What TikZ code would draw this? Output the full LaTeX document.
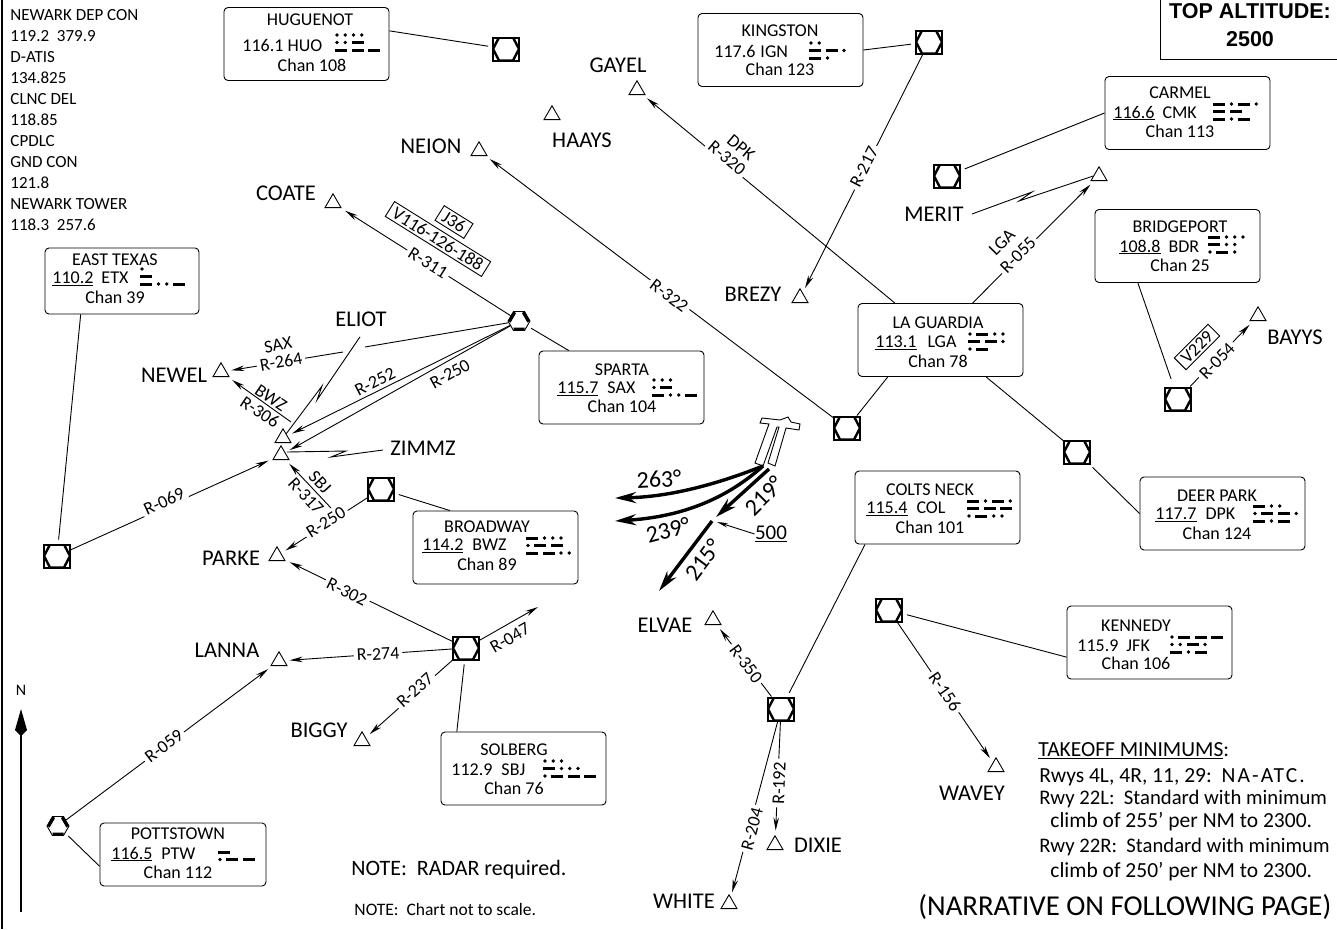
\documentclass[tikz,border=0pt]{standalone}
\usepackage{fontspec}
\setmainfont[Ligatures=TeX]{Carlito}
\newfontfamily\topfont{Liberation Sans}
\usetikzlibrary{arrows.meta,shapes.geometric}
\newcommand{\morse}[3]{%
  \foreach \morserow [count=\morsei] in {#3}{%
    \xdef\morsepos{0}%
    \foreach \morsesym in \morserow{%
      \pgfmathsetmacro{\morsex}{#1+\morsepos}%
      \pgfmathsetmacro{\morsey}{-#2-(\morsei-1)*7.5}%
      \if d\morsesym
        \fill [black] (\morsex+2,\morsey) circle (1.9);
        \pgfmathsetmacro{\morsenext}{\morsepos+8.25}%
      \else
        \fill [black] (\morsex,\morsey-1.5) rectangle (\morsex+12,\morsey+1.5);
        \pgfmathsetmacro{\morsenext}{\morsepos+16.5}%
      \fi
      \xdef\morsepos{\morsenext}%
    }%
  }%
}
\begin{document}
\begin{tikzpicture}[x=1pt,y=1pt,line width=0.9pt]
\tikzstyle{every node}+=[inner sep=0pt,font=\fontsize{18}{20}\selectfont]
\tikzstyle{navbox}=[rectangle,draw,rounded corners=4pt,minimum width=165pt,minimum height=73pt]
\tikzstyle{vordme}=[rectangle,draw,line width=2pt,minimum width=26pt,minimum height=23pt,path picture={\draw [line width=2.4pt] (path picture bounding box.center) ++(-13,0) -- ++(6,11.5) -- ++(14,0) -- ++(6,-11.5) -- ++(-6,-11.5) -- ++(-14,0) -- cycle;}]
\tikzstyle{vorhex}=[regular polygon,regular polygon sides=6,draw,minimum size=22pt,path picture={\draw [line width=6pt] (path picture bounding box.center) ++(-11,0) -- ++(5.5,9.5) ++(11,0) -- ++(5.5,-9.5) ++(-5.5,-9.5) -- ++(-11,0);}]
\tikzstyle{fixtri}=[regular polygon,regular polygon sides=3,draw,minimum size=18.5pt]
\tikzstyle{fixname}=[font=\fontsize{22.5}{24}\selectfont]
\tikzstyle{radial}=[-{Stealth[length=13pt,width=5.5pt]},shorten >=5pt]
\tikzstyle{tie}=[shorten >=4pt]
\tikzstyle{rlabel}=[fill=white,inner xsep=3pt,inner ysep=1pt]
\tikzstyle{boxed}=[draw,fill=white,inner sep=2.5pt,inner xsep=5pt]
\tikzstyle{departure}=[line width=3.4pt,-{Stealth[length=21pt,width=11pt]}]
\tikzstyle{degree}=[font=\fontsize{24}{26}\selectfont]
\tikzstyle{takeoff}=[font=\fontsize{21.5}{24}\selectfont,anchor=west]
\tikzstyle{takeoffrwy}=[font=\fontsize{20.7}{24}\selectfont,anchor=west]
\useasboundingbox (0,0) rectangle (1337,-929);
\draw [line width=1.5pt] (2,0) -- (2,-929);
\draw (1160,10) rectangle (1345,-59);
\node [font=\fontsize{21.5}{24}\selectfont\topfont\bfseries] (topalt) at (1250,-11) {TOP ALTITUDE:};
\node [font=\fontsize{21.5}{24}\selectfont\topfont\bfseries] (topaltvalue) at (1250,-39) {2500};
\node [anchor=north west,align=left,font=\fontsize{17}{21}\selectfont] (freqs) at (10,-9) {NEWARK DEP CON\\119.2\ \ 379.9\\D-ATIS\\134.825\\CLNC DEL\\118.85\\CPDLC\\GND CON\\121.8\\NEWARK TOWER\\118.3\ \ 257.6};
\node [navbox] (huguenot) at (306.5,-44) {};
\node (huguenottitle) at (310,-20) {HUGUENOT};
\node [anchor=west] (huguenotid) at (242,-45) {116.1 HUO};
\node (huguenotchan) at (312,-65) {Chan 108};
\morse{335}{35}{{d,d,d,d},{d,d,l},{l,l,l}}
\node [navbox] (kingston) at (780.5,-50) {};
\node (kingstontitle) at (780,-31) {KINGSTON};
\node [anchor=west] (kingstonid) at (714,-51) {117.6\hspace{5pt}IGN};
\node (kingstonchan) at (780,-69) {Chan 123};
\morse{809}{43}{{d,d},{l,l,d},{l,d}}
\node [navbox] (carmel) at (1187.5,-113) {};
\node (carmeltitle) at (1180,-93) {CARMEL};
\node [anchor=west] (carmelid) at (1113,-113) {\underline{116.6}\hspace{8pt}CMK};
\node (carmelchan) at (1180,-131) {Chan 113};
\morse{1213}{104}{{l,d,l,d},{l,l},{l,d,l}}
\node [navbox,minimum width=154pt,minimum height=66pt] (easttexas) at (122,-281) {};
\node (easttexastitle) at (115,-260) {EAST TEXAS};
\node [anchor=west] (easttexasid) at (52,-279) {\underline{110.2}\hspace{8pt}ETX};
\node (easttexaschan) at (115,-297) {Chan 39};
\morse{140}{269}{{d},{l},{l,d,d,l}}
\node [navbox] (bridgeport) at (1177.5,-246) {};
\node (bridgeporttitle) at (1180,-227) {BRIDGEPORT};
\node [anchor=west] (bridgeportid) at (1119,-247) {\underline{108.8}\hspace{8pt}BDR};
\node (bridgeportchan) at (1180,-265) {Chan 25};
\morse{1208}{237}{{l,d,d,d},{l,d,d},{d,l,d}}
\node [navbox] (laguardia) at (940.5,-340) {};
\node (laguardiatitle) at (938,-323) {LA GUARDIA};
\node [anchor=west] (laguardiaid) at (875,-343) {\underline{113.1}\hspace{11pt}LGA};
\node (laguardiachan) at (938,-361) {Chan 78};
\morse{968}{334}{{d,l,d,d},{l,l,d},{d,l}}
\node [navbox] (sparta) at (621.5,-387.5) {};
\node (spartatitle) at (622,-370) {SPARTA};
\node [anchor=west] (spartaid) at (557,-389) {\underline{115.7}\hspace{9pt}SAX};
\node (spartachan) at (622,-406) {Chan 104};
\morse{652}{380}{{d,d,d},{d,l},{l,d,d,l}}
\node [navbox] (deerpark) at (1222.5,-513.5) {};
\node (deerparktitle) at (1217,-496) {DEER PARK};
\node [anchor=west] (deerparkid) at (1155,-515) {\underline{117.7}\hspace{9pt}DPK};
\node (deerparkchan) at (1217,-533) {Chan 124};
\morse{1253}{506}{{l,d,d},{d,l,l,d},{l,d,l}}
\node [navbox] (coltsneck) at (937.5,-507.5) {};
\node (coltsnecktitle) at (930,-490) {COLTS NECK};
\node [anchor=west] (coltsneckid) at (866,-509) {\underline{115.4}\hspace{9pt}COL};
\node (coltsneckchan) at (930,-527) {Chan 101};
\morse{967}{501}{{l,d,l,d},{l,l,l},{d,l,d,d}}
\node [navbox] (broadway) at (495.5,-547.5) {};
\node (broadwaytitle) at (487,-527) {BROADWAY};
\node [anchor=west] (broadwayid) at (422,-546) {\underline{114.2}\hspace{9pt}BWZ};
\node (broadwaychan) at (487,-564) {Chan 89};
\morse{526}{538}{{l,d,d,d},{d,l,l},{l,l,d,d}}
\node [navbox] (kennedy) at (1149.5,-642.5) {};
\node (kennedytitle) at (1136,-626) {KENNEDY};
\node [anchor=west] (kennedyid) at (1077,-646) {115.9\hspace{8pt}JFK};
\node (kennedychan) at (1136,-663) {Chan 106};
\morse{1170}{637}{{d,l,l,l},{d,d,l,d},{l,d,l}}
\node [navbox] (solberg) at (523.5,-768.5) {};
\node (solbergtitle) at (514,-750) {SOLBERG};
\node [anchor=west] (solbergid) at (451,-770) {112.9\hspace{9pt}SBJ};
\node (solbergchan) at (514,-788) {Chan 76};
\morse{543}{761}{{d,d,d},{l,d,d,d},{d,l,l,l}}
\node [navbox,minimum width=166pt,minimum height=63pt] (pottstown) at (183,-854.5) {};
\node (pottstowntitle) at (178,-834) {POTTSTOWN};
\node [anchor=west] (pottstownid) at (111,-854) {\underline{116.5}\hspace{9pt}PTW};
\node (pottstownchan) at (178,-872) {Chan 112};
\morse{218}{852}{{l},{d,l,l}}
\node [vordme] (huo) at (506,-49) {};
\node [vordme] (ign) at (929,-42) {};
\node [vordme] (cmk) at (947,-176) {};
\node [vordme] (etx) at (57,-556) {};
\node [vordme] (bwz) at (381,-489) {};
\node [vordme] (sbj) at (466,-648) {};
\node [vordme] (lga) at (847,-428) {};
\node [vordme] (dpk) at (1077,-452) {};
\node [vordme] (bdr) at (1178,-399) {};
\node [vordme] (col) at (781,-709) {};
\node [vordme] (jfk) at (889,-610) {};
\node [vorhex] (sax) at (519,-321) {};
\node [vorhex] (ptw) at (58,-826) {};
\node [fixtri] (gayelfix) at (637,-90) {};
\node [fixtri] (haaysfix) at (552,-115) {};
\node [fixtri] (neionfix) at (479,-151) {};
\node [fixtri] (coatefix) at (333,-203) {};
\node [fixtri] (newelfix) at (221,-372) {};
\node [fixtri] (eliotfix) at (283,-438) {};
\node [fixtri] (zimmzfix) at (281,-455) {};
\node [fixtri] (parkefix) at (277,-556) {};
\node [fixtri] (lannafix) at (279,-661) {};
\node [fixtri] (biggyfix) at (362,-741) {};
\node [fixtri] (elvaefix) at (713,-620) {};
\node [fixtri] (dixiefix) at (775,-845) {};
\node [fixtri] (whitefix) at (729,-904) {};
\node [fixtri] (waveyfix) at (996,-767) {};
\node [fixtri] (brezyfix) at (800,-298) {};
\node [fixtri] (meritfix) at (1099,-176) {};
\node [fixtri] (bayysfix) at (1258,-316) {};
\node [fixname] (gayel) at (618,-65) {GAYEL};
\node [fixname] (haays) at (582,-140) {HAAYS};
\node [fixname] (neion) at (431,-146) {NEION};
\node [fixname] (coate) at (286,-193) {COATE};
\node [fixname] (eliot) at (361,-319) {ELIOT};
\node [fixname] (newel) at (174,-375) {NEWEL};
\node [fixname] (zimmz) at (423,-448) {ZIMMZ};
\node [fixname] (parke) at (231,-558) {PARKE};
\node [fixname] (lanna) at (227,-650) {LANNA};
\node [fixname] (biggy) at (319,-730) {BIGGY};
\node [fixname] (elvae) at (665,-625) {ELVAE};
\node [fixname] (dixie) at (818,-845) {DIXIE};
\node [fixname] (white) at (684,-901) {WHITE};
\node [fixname] (wavey) at (972,-793) {WAVEY};
\node [fixname] (brezy) at (753,-294) {BREZY};
\node [fixname] (merit) at (934,-214) {MERIT};
\node [fixname] (bayys) at (1295,-337) {BAYYS};
\coordinate (r264break) at (365,-347);
\coordinate (r264resume) at (343,-352);
\coordinate (r306start) at (291,-422);
\coordinate (r317start) at (331,-508);
\coordinate (r047end) at (538,-607);
\draw [tie] (huguenot.9) -- (huo);
\draw [tie] (kingston.east) -- (ign);
\draw [tie] (carmel.west) -- (cmk);
\draw [tie] (easttexas.219) -- (etx);
\draw [tie,shorten >=8pt] (bridgeport.223) -- (bdr);
\draw [tie] (sparta.145) -- (sax);
\draw [tie] (deerpark.west) -- (dpk);
\draw [tie] (coltsneck.207) -- (col);
\draw [tie] (broadway.141) -- (bwz);
\draw [tie] (kennedy.190) -- (jfk);
\draw [tie] (solberg.151) -- (sbj);
\draw [tie] (pottstown.188) -- (ptw);
\draw (lga) -- (laguardia.215);
\draw (dpk) -- (laguardia.321);
\draw [radial] (laguardia.141) -- (gayelfix);
\draw [radial] (laguardia.49) -- (meritfix);
\draw [radial] (lga) -- (neionfix);
\draw [radial] (ign) -- (brezyfix);
\draw [radial] (sax) -- (coatefix);
\draw (sax) -- (r264break);
\draw [radial] (r264resume) -- (newelfix);
\draw [radial] (sax) -- (eliotfix);
\draw [radial] (sax) -- (zimmzfix);
\draw [radial] (r306start) -- (newelfix);
\draw [radial] (r317start) -- (zimmzfix);
\draw [radial] (etx) -- (zimmzfix);
\draw [radial] (bwz) -- (parkefix);
\draw [radial] (sbj) -- (parkefix);
\draw [radial] (sbj) -- (lannafix);
\draw [radial] (sbj) -- (biggyfix);
\draw [radial,shorten >=0pt] (sbj) -- (r047end);
\draw [radial] (ptw) -- (lannafix);
\draw [radial] (bdr) -- (bayysfix);
\draw [radial] (col) -- (elvaefix);
\draw [radial] (col) -- (dixiefix);
\draw [radial] (col) -- (whitefix);
\draw [radial] (jfk) -- (waveyfix);
\draw (eliot.south) ++(-1,-10) -- (317,-400) -- (322,-386) -- (eliotfix);
\draw (zimmzfix.east) ++(0,3) -- (346,-451) -- (331,-457) -- (383,-450);
\draw (merit.east) ++(8,0) -- (1032,-192) -- (1019,-201) -- (meritfix.west);
\node [rlabel,rotate=-32] (r311) at (428,-263) {R-311};
\node [boxed,rotate=-32] (v116) at (438,-239) {V116-126-188};
\node [boxed,rotate=-32] (j36) at (454,-222) {J36};
\node [rlabel,rotate=10] (r264) at (281,-362) {R-264};
\node [rotate=10] (saxname) at (278,-345) {SAX};
\node [rotate=-34] (bwzname) at (271,-398) {BWZ};
\node [rotate=-34] (r306) at (260,-412) {R-306};
\node [rotate=27] (r252) at (375,-382) {R-252};
\node [rotate=29] (r250) at (450,-374) {R-250};
\node [rotate=-47] (sbjname) at (320,-482) {SBJ};
\node [rotate=-47] (r317) at (306,-496) {R-317};
\node [rlabel,rotate=25] (r069) at (164,-501) {R-069};
\node [rlabel,rotate=32] (r250b) at (326,-522) {R-250};
\node [rlabel,rotate=-26] (r302) at (347,-592) {R-302};
\node [rlabel,rotate=3] (r274) at (378,-654) {R-274};
\node [rlabel,rotate=42] (r237) at (415,-690) {R-237};
\node [rotate=30] (r047) at (510,-638) {R-047};
\node [rlabel,rotate=37] (r059) at (164,-746) {R-059};
\node [rlabel,rotate=-37] (r322) at (669,-296) {R-322};
\node [rlabel,rotate=-40] (r320) at (727,-158) {R-320};
\node [rotate=-40] (dpkname) at (741,-148) {DPK};
\node [rlabel,rotate=63] (r217) at (864,-167) {R-217};
\node [rotate=45] (lganame) at (1002,-242) {LGA};
\node [rlabel,rotate=45] (r055) at (1018,-255) {R-055};
\node [boxed,rotate=45] (v229) at (1197,-347) {V229};
\node [rlabel,rotate=46] (r054) at (1217,-361) {R-054};
\node [rlabel,rotate=-53] (r350) at (746,-664) {R-350};
\node [rlabel,rotate=88] (r192) at (779,-783) {R-192};
\node [rlabel,rotate=75] (r204) at (752,-829) {R-204};
\node [rlabel,rotate=-55] (r156) at (945,-692) {R-156};
\draw (755,-463) -- (769,-424) -- (760,-423) -- (762,-418) -- (780,-420) -- (788,-417) -- (791,-422) -- (800,-424) -- (799,-430) -- (786,-428) -- (775,-466) -- (768,-463) -- (779,-427) -- (777,-427) -- (763,-466) -- cycle;
\coordinate (rwyend) at (763,-466);
\coordinate (rwyendb) at (769,-469);
\coordinate (dep263) at (615,-498);
\coordinate (dep239) at (615,-521);
\coordinate (dep219) at (716,-517);
\coordinate (dep500) at (712,-521);
\coordinate (dep215) at (659,-591);
\coordinate (tip500) at (717,-522);
\draw [departure] (rwyend) .. controls (710,-487) and (665,-497) .. (dep263);
\draw [departure] (rwyend) .. controls (725,-500) and (680,-517) .. (dep239);
\draw [departure] (rwyendb) -- (dep219);
\draw [departure] (dep500) -- (dep215);
\node [degree,rotate=3] (deg263) at (659,-479) {263°};
\node [degree,rotate=15] (deg239) at (668,-530) {239°};
\node [degree,rotate=45] (deg219) at (764,-496) {219°};
\node [degree,rotate=53] (deg215) at (703,-560) {215°};
\node [font=\fontsize{21}{24}\selectfont] (alt500) at (771,-534) {\underline{500}};
\draw [radial,shorten >=0pt,-{Stealth[length=11pt,width=4.5pt]}] (alt500.west) -- (tip500);
\coordinate (northfoot) at (21,-912);
\coordinate (northtip) at (21,-709);
\draw [line width=1.3pt,-{Kite[length=27pt,width=12pt,inset=6pt]}] (northfoot) -- (northtip);
\node [font=\fontsize{16}{18}\selectfont] (northname) at (21,-690) {N};
\node [font=\fontsize{22}{24}\selectfont,anchor=west] (note) at (351,-870) {NOTE:\ \ RADAR required.};
\node [font=\fontsize{17.5}{20}\selectfont,anchor=west] (notescale) at (354,-909) {NOTE:\ \ Chart not to scale.};
\node [takeoff] (minimums) at (1038,-751) {\underline{TAKEOFF MINIMUMS}:};
\node [takeoff] (rwysa) at (1039,-777) {Rwys 4L, 4R, 11, 29:\ \ \addfontfeatures{LetterSpace=10}NA-ATC.};
\node [takeoffrwy] (rwysb) at (1039,-799) {Rwy 22L:\ \ Standard with minimum};
\node [takeoff] (rwysc) at (1050,-822) {climb of 255' per NM to 2300.};
\node [takeoffrwy] (rwysd) at (1039,-847) {Rwy 22R:\ \ Standard with minimum};
\node [takeoff] (rwyse) at (1050,-872) {climb of 250' per NM to 2300.};
\node [font=\fontsize{28.8}{30}\selectfont,anchor=west] (narrative) at (918,-907) {(NARRATIVE ON FOLLOWING PAGE)};
\end{tikzpicture}
\end{document}
